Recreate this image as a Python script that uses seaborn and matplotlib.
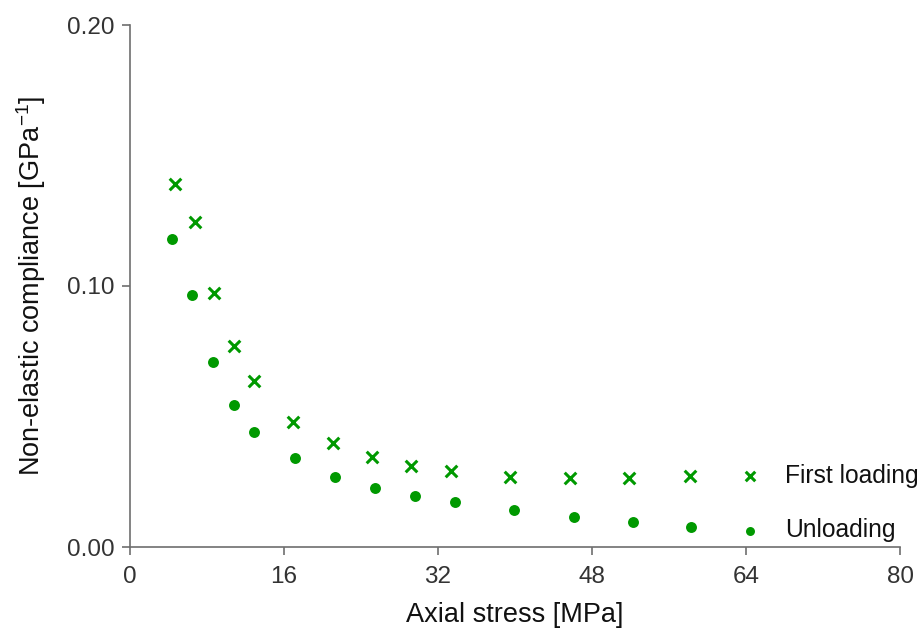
import matplotlib
matplotlib.use("Agg")
import matplotlib.pyplot as plt
import seaborn as sns
import pandas as pd

# Data
first_x = [4.7, 6.75, 8.7, 10.8, 12.9, 16.9, 21.1, 25.1, 29.2, 33.4, 39.5, 45.7, 51.8, 58.2]
first_y = [0.139, 0.1245, 0.0973, 0.077, 0.0636, 0.0479, 0.0398, 0.0345, 0.031, 0.0291,
           0.0268, 0.0264, 0.0264, 0.0272]
unload_x = [4.4, 6.45, 8.6, 10.8, 12.9, 17.1, 21.3, 25.5, 29.6, 33.8, 39.9, 46.1, 52.3, 58.3]
unload_y = [0.118, 0.0966, 0.0709, 0.0544, 0.0441, 0.0341, 0.0268, 0.0226, 0.0195, 0.0172,
            0.0142, 0.0115, 0.0096, 0.0077]
series_names = ["First loading", "Unloading"]
x_ticks = [0, 16, 32, 48, 64, 80]
y_ticks = [0.00, 0.10, 0.20]

sns.set_theme(style="white")
plt.rcParams['font.family'] = ['Liberation Sans', 'DejaVu Sans']
plt.rcParams['mathtext.fontset'] = 'custom'
plt.rcParams['mathtext.rm'] = 'Liberation Sans'
plt.rcParams['mathtext.it'] = 'Liberation Sans'

green = "#009900"
gray = "#6e6e6e"

df1 = pd.DataFrame({"x": first_x, "y": first_y})
df2 = pd.DataFrame({"x": unload_x, "y": unload_y})

fig = plt.figure(figsize=(9.22, 6.29), dpi=100)
ax = fig.add_axes([130/922, 1-547/629, 770/922, 522/629])

sns.scatterplot(data=df1, x="x", y="y", marker="x", color=green, s=70, linewidth=2.2, ax=ax,
                label=series_names[0])
sns.scatterplot(data=df2, x="x", y="y", marker="o", color=green, s=62, linewidth=0, ax=ax,
                label=series_names[1])

fs_leg = 17.7
ax.legend(loc="center left", bbox_to_anchor=(738/922, 1-503/629), bbox_transform=fig.transFigure,
          frameon=False, markerscale=0.82, handlelength=1.0, handletextpad=0.9,
          labelspacing=1.25, borderpad=0, borderaxespad=0, prop={"size": fs_leg})
for t in ax.get_legend().get_texts():
    t.set_color("#111111")

ax.set_xlim(0, 80)
ax.set_ylim(0, 0.20)
ax.set_xticks(x_ticks)
ax.set_xticklabels([str(t) for t in x_ticks])
ax.set_yticks(y_ticks)
ax.set_yticklabels([f"{t:.2f}" for t in y_ticks])

for s in ["top", "right"]:
    ax.spines[s].set_visible(False)
for s in ["left", "bottom"]:
    ax.spines[s].set_color(gray)
    ax.spines[s].set_linewidth(1.2)

ax.tick_params(axis="both", direction="out", length=6, width=1.2, color=gray,
               labelsize=17.5, labelcolor="#333333", bottom=True, left=True)
ax.tick_params(axis="x", pad=8)
ax.tick_params(axis="y", pad=5)

ax.set_xlabel("Axial stress [MPa]", fontsize=19.5, color="#111111", labelpad=10)
ax.set_ylabel("Non-elastic compliance [GPa$^{-1}$]", fontsize=19.5, color="#111111", labelpad=14)

fig.savefig("out.png", dpi=100)
